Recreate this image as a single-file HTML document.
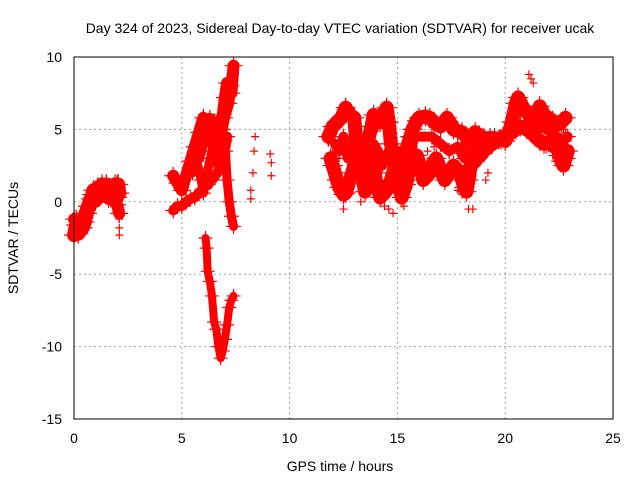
<!DOCTYPE html>
<html><head><meta charset="utf-8"><style>
body{margin:0;background:#fff;width:640px;height:480px;overflow:hidden}
svg{font-family:"Liberation Sans",sans-serif;font-size:14px}
</style></head><body>
<svg id="chart" width="640" height="480" viewBox="0 0 640 480">
<text x="340" y="33" text-anchor="middle" font-size="14">Day 324 of 2023, Sidereal Day-to-day VTEC variation (SDTVAR) for receiver ucak</text>
<text x="340" y="471" text-anchor="middle">GPS time / hours</text>
<text transform="translate(18,238) rotate(-90)" text-anchor="middle">SDTVAR / TECUs</text>
<g id="grid"></g>
<g id="ticks"></g>
<g id="marks"></g>
<rect x="74" y="57" width="539" height="362" fill="none" stroke="#000" stroke-width="1"/>
</svg>
<script>
const xTicks=[0,5,10,15,20,25];
const yTicks=[-15,-10,-5,0,5,10];
const tA=[[0,-2.3],[0.1,-1.6],[0.2,-2.2],[0.4,-1.8],[0.5,-1.4],[0.6,-0.8],[0.7,-0.3],[0.8,0.2],[0.9,0.8],[1.0,0.6],[1.1,1.0],[1.2,0.7],[1.3,1.2],[1.4,0.6],[1.5,1.2],[1.6,0.7],[1.7,0.3],[1.8,0.8],[1.9,1.2],[2.0,0.3],[2.05,1.2],[2.1,0.6]];
const tA2=[[0,-1.2],[0.2,-1.6],[0.4,-1.2],[0.6,-0.3],[0.8,0.5],[1.0,0],[1.2,0.3],[1.4,1.0],[1.6,0.2],[1.8,0.3],[2.0,-0.2],[2.1,-0.8]];
const tA3=[[2.1,-0.5],[2.1,-1.2],[2.1,-1.8],[2.1,-2.3],[0.1,-0.8],[0.05,-1.8],[1.3,1.5],[1.5,1.6],[2.0,1.6]];
const tB1=[[4.6,-0.6],[4.8,-0.3],[5.0,-0.3],[5.2,0],[5.4,0.2],[5.6,0.3],[5.8,0.6],[6.0,0.9],[6.2,1.2],[6.4,1.5],[6.6,1.9],[6.8,2.4],[7.0,3.5],[7.1,4.5]];
const tB2=[[4.6,1.8],[4.8,1.3],[5.0,0.8],[5.2,1.8],[5.4,2.8],[5.6,3.8],[5.8,4.8],[6.0,5.8],[6.2,5.0],[6.3,4.2],[6.5,5.5],[6.7,4.8],[6.9,6.0],[7.0,7.2],[7.1,8.2],[7.3,7.5],[7.4,9.4]];
const tB3=[[5.5,2.0],[5.7,2.8],[5.9,1.5],[6.0,0.6],[6.2,2.2],[6.4,3.5],[6.5,4.8],[6.6,3],[6.7,2.5],[6.8,3.6],[7.0,4.2],[7.1,1.5],[7.2,0],[7.3,-1],[7.4,-1.7]];
const tB5=[[5.8,3.0],[6.0,4.0],[6.1,5.0],[6.3,5.8],[6.4,4.8],[6.6,4.0],[6.7,5.2],[6.9,5.0],[7.0,5.8],[7.2,6.8],[7.3,8.0]];
const tDip=[[6.1,-2.5],[6.15,-3.2],[6.2,-4.8],[6.3,-5.5],[6.4,-6.5],[6.5,-8.3],[6.6,-8.8],[6.7,-10],[6.8,-10.8],[6.9,-10.3],[7.0,-9.5],[7.1,-8.5],[7.2,-7.3],[7.3,-6.8],[7.4,-6.5]];
const tB4=[[8.2,0.2],[8.2,0.8],[8.3,2.0],[8.35,3.5],[8.4,4.5],[9.1,3.3],[9.15,2.7],[9.15,1.8]];
const tC1=[[11.8,4.5],[12.0,5.2],[12.2,5.5],[12.4,5.8],[12.6,6.5],[12.8,6.0],[13.0,5.8],[13.1,4],[13.3,2],[13.5,3],[13.6,4],[13.8,5.2],[13.9,6],[14.1,5.5],[14.2,5.5],[14.4,6.2],[14.5,6.5],[14.6,5.5],[14.7,4],[14.9,2.5],[15.0,1.5],[15.2,2.5],[15.4,3.5],[15.6,4.5],[15.7,5],[15.9,5.6],[16.0,5.8],[16.3,5.9],[16.5,5.8],[16.7,5.5],[17.0,5.2],[17.2,5.6],[17.3,5.8],[17.5,5.3],[17.6,5],[17.8,4.9],[18.0,4.8],[18.2,4.5],[18.3,4],[18.5,4.6],[18.6,4.8],[18.8,4.6],[19.0,4.4],[19.3,4.4],[19.5,4.4],[19.8,4.3],[20.0,4.2],[20.2,4.8],[20.3,5.5],[20.5,6.8],[20.6,7.2],[20.8,6.6],[20.9,6.3],[21.1,6],[21.3,5.5],[21.5,6.2],[21.6,6.6],[21.8,6.0],[22.0,5.8],[22.2,5.6],[22.4,5.3],[22.6,5.5],[22.8,5.8]];
const tC2=[[11.9,3],[12.0,2.5],[12.2,1.5],[12.3,1],[12.5,0.5],[12.6,0.6],[12.8,1.5],[12.9,2],[13.1,3],[13.2,3],[13.4,1.5],[13.5,0.7],[13.7,1.5],[13.9,2.5],[14.0,1.5],[14.2,0.3],[14.4,0.6],[14.6,1],[14.8,2],[14.9,2.5],[15.1,1],[15.2,0.3],[15.4,1.2],[15.6,2.5],[15.8,3],[15.9,3.2],[16.1,2.2],[16.2,1.5],[16.4,1.8],[16.5,2.0],[16.7,2.8],[16.8,3],[17.0,2.2],[17.2,1.5],[17.4,2],[17.6,2.5],[17.8,2.2],[17.9,2],[18.1,1],[18.2,0.7],[18.3,1.5],[18.4,2.5],[18.6,2.8],[18.7,3],[18.9,3.3],[19.0,3.5],[19.2,3.8],[19.4,4],[19.7,4.3],[19.9,4.5],[20.1,4.6],[20.3,4.8],[20.5,5],[20.7,5.2],[21.0,5],[21.2,4.8],[21.4,4.5],[21.6,4.2],[21.8,4],[22.0,4.1],[22.1,4.2],[22.3,3.8],[22.5,3.5],[22.6,2.8],[22.7,2.5],[22.8,3],[22.9,3.5]];
const tC4=[[12.1,4.0],[12.3,3.5],[12.5,4.5],[12.7,3],[12.9,3.8],[13.7,3.0],[13.9,4],[14.1,3.5],[14.3,2.5],[14.6,3.5],[15.6,3.5],[15.8,4.5],[16.6,4.5],[17.0,4.0],[17.4,3.5],[17.8,3.8],[18.1,3.0],[18.5,3.5],[18.8,3.8],[21.2,5.5],[21.5,5.0],[21.8,5.2],[22.1,4.8],[22.4,4.5],[22.7,4.2],[22.9,4.5]];
const tC3=[[12.2,5.5],[12.3,3],[12.4,0.8],[12.5,-0.5],[13.0,4.5],[13.2,1.5],[13.3,0],[14.4,-0.3],[14.6,-0.5],[14.8,-0.8],[15.3,-0.3],[16.4,3.5],[16.7,3.8],[17.8,0.8],[18.0,0.5],[18.3,-0.5],[18.5,-0.5],[19.2,2],[19.1,1.5],[21.1,8.8],[21.2,8.5],[21.3,8.2],[22.7,5],[22.8,4.8],[22.9,4.2],[22.6,4.5],[21.9,3.6],[22.2,3.2]];
const traces=[tA,tA2,tA3,tB1,tB2,tB3,tB5,tDip,tB4,tC1,tC2,tC4,tC3];
const widths=[14,12,0,10,12,9,10,8,0,14,14,10,0];

const X=h=>74+h*539/25, Y=v=>57+(10-v)*362/25;
const ns="http://www.w3.org/2000/svg";
const grid=document.getElementById('grid'),ticks=document.getElementById('ticks'),marks=document.getElementById('marks');
xTicks.forEach(t=>{
  if(t>0&&t<25){const l=document.createElementNS(ns,'line');
  
  
  l.setAttribute('x1',X(t));l.setAttribute('x2',X(t));l.setAttribute('y1',57);l.setAttribute('y2',419);
  l.setAttribute('stroke','#a0a0a0');l.setAttribute('stroke-dasharray','2,3');grid.appendChild(l);}
  const s=document.createElementNS(ns,'text');
  
  
  s.setAttribute('x',X(t));s.setAttribute('y',443);s.setAttribute('text-anchor','middle');s.textContent=t;ticks.appendChild(s);
});
yTicks.forEach(t=>{
  if(t>-15&&t<10){const l=document.createElementNS(ns,'line');
  
  
  l.setAttribute('x1',74);l.setAttribute('x2',613);l.setAttribute('y1',Y(t));l.setAttribute('y2',Y(t));
  l.setAttribute('stroke','#a0a0a0');l.setAttribute('stroke-dasharray','2,3');grid.appendChild(l);}
  const s=document.createElementNS(ns,'text');
  
  
  s.setAttribute('x',62);s.setAttribute('y',Y(t)+5);s.setAttribute('text-anchor','end');s.textContent=t;ticks.appendChild(s);
});
traces.forEach((tr,i)=>{
  if(widths[i]>0){const p=document.createElementNS(ns,'polyline');
  
  
  p.setAttribute('points',tr.map(d=>X(d[0])+','+Y(d[1])).join(' '));
  p.setAttribute('fill','none');p.setAttribute('stroke','#ff0000');p.setAttribute('stroke-width',widths[i]);p.setAttribute('stroke-linejoin','round');p.setAttribute('stroke-linecap','round');marks.appendChild(p);}
  tr.forEach(d=>{
    const x=X(d[0]),y=Y(d[1]);
    const m=document.createElementNS(ns,'path');
    
    
    const r=widths[i]>0?widths[i]/2+3:4;
    m.setAttribute('d',`M${x-r},${y}H${x+r}M${x},${y-r}V${y+r}`);
    m.setAttribute('stroke','#ff0000');m.setAttribute('stroke-width','1.2');marks.appendChild(m);
  });
});
</script>
</body></html>
